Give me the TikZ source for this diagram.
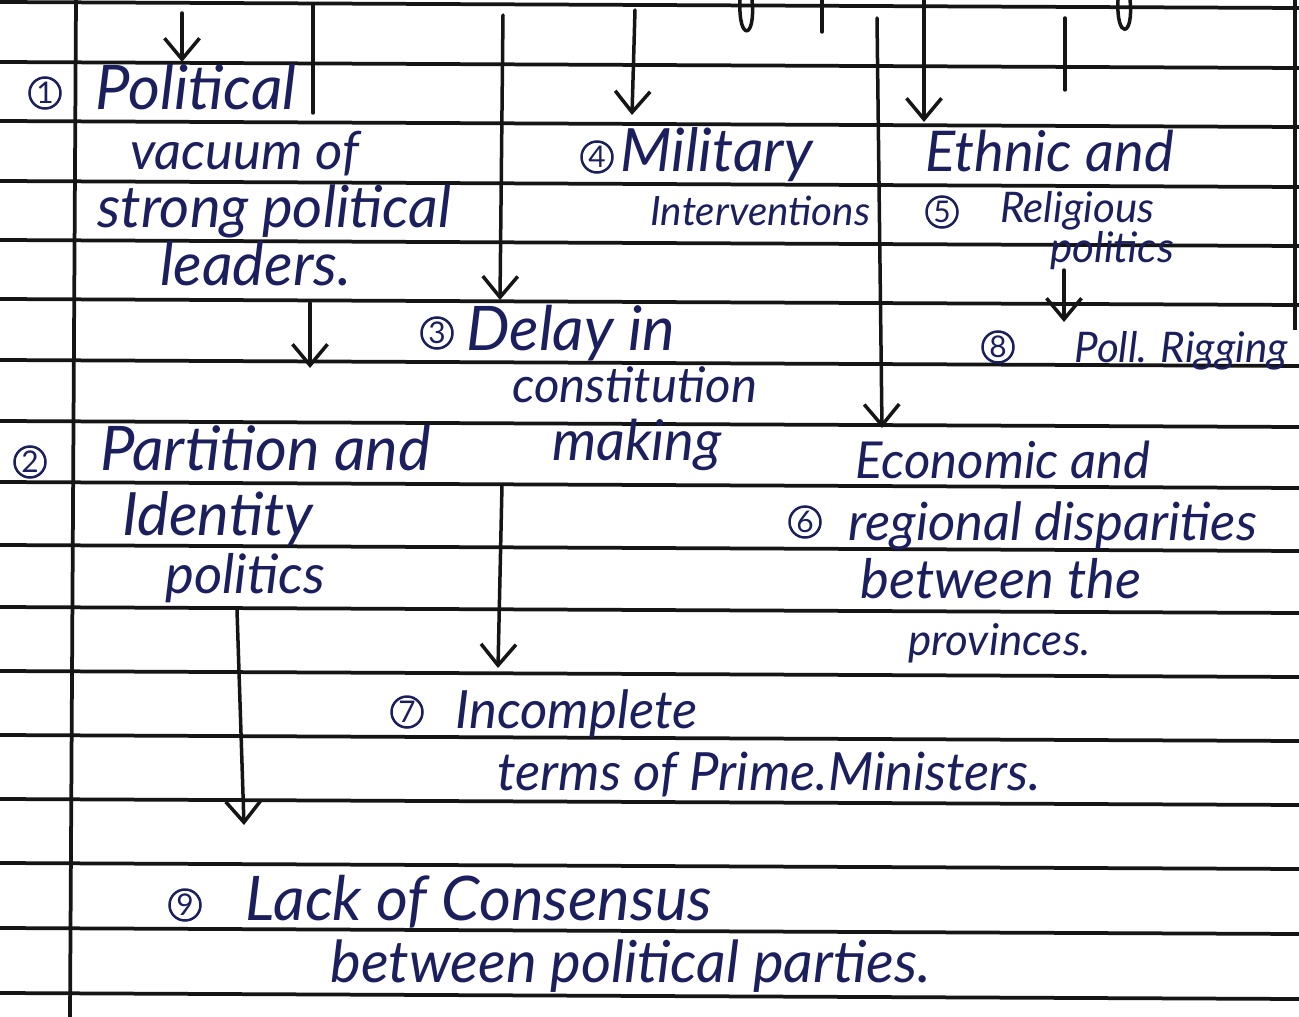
\documentclass[tikz,border=0pt]{standalone}
\usepackage{fontspec}
\setmainfont{Lato}
\usetikzlibrary{arrows.meta}
\definecolor{ink}{HTML}{1B1F5E}
\definecolor{rulec}{HTML}{151515}
\begin{document}
\begin{tikzpicture}[x=0.02cm,y=-0.02cm,
  rule/.style={draw=rulec,line width=0.075cm},
  stroke/.style={draw=rulec,line width=0.07cm,line cap=round},
  arr/.style={draw=rulec,line width=0.07cm,line cap=round,-{Straight Barb[length=0.42cm,width=0.7cm,line width=0.07cm]}},
  hw/.style={anchor=base west,inner sep=0pt,text=ink,font=\fontsize{#1}{#1}\selectfont\itshape},
  hw/.default=30,
  num/.style={circle,draw=ink,line width=0.05cm,text=ink,inner sep=0pt,minimum size=0.62cm,font=\fontsize{17}{17}\selectfont}]
\useasboundingbox (0,0) rectangle (1299,1017);
\fill[white] (0,0) rectangle (1299,1017);
% ruled lines
\foreach \y in {2,62,121,181,240,299,360,421,482,545,607,671,735,799,863,928,993}
  \draw[rule] (0,\y) -- (1299,\y+6);
% margins
\draw[rule] (76,0) -- (70,1017);
\draw[rule] (1295,0) -- (1295,330);
% header fragments
\draw[stroke] (822,0) -- (822,32);
\draw[stroke] (740,0) .. controls (738,42) and (756,40) .. (752,0);
\draw[stroke] (1118,0) .. controls (1116,40) and (1134,38) .. (1130,0);
% text nodes
\node[num] (n1) at (45,93) {1};
\node[hw=35] (t1a) at (95,110) {Political};
\node[hw=30] (t1b) at (130,170) {vacuum of};
\node[hw=33] (t1c) at (97,228) {strong political};
\node[hw=34] (t1d) at (160,285) {leaders.};
\node[num] (n2) at (30,462) {2};
\node[hw=35] (t2a) at (100,470) {Partition and};
\node[hw=34] (t2b) at (122,535) {Identity};
\node[hw=31] (t2c) at (165,593) {politics};
\node[num] (n3) at (437,333) {3};
\node[hw=35] (t3a) at (466,350) {Delay in};
\node[hw=28] (t3b) at (512,402) {constitution};
\node[hw=32] (t3c) at (552,460) {making};
\node[num] (n4) at (597,157) {4};
\node[hw=34] (t4a) at (620,172) {Military};
\node[hw=23] (t4b) at (650,225) {Interventions};
\node[hw=32] (t5a) at (925,172) {Ethnic and};
\node[num] (n5) at (942,212) {5};
\node[hw=24] (t5b) at (1000,222) {Religious};
\node[hw=24] (t5c) at (1050,262) {politics};
\node[num] (n8) at (998,347) {8};
\node[hw=24] (t8) at (1074,362) {Poll. Rigging};
\node[hw=29] (t6a) at (855,478) {Economic and};
\node[num] (n6) at (805,522) {6};
\node[hw=30] (t6b) at (848,540) {regional disparities};
\node[hw=31] (t6c) at (860,598) {between the};
\node[hw=25] (t6d) at (908,655) {provinces.};
\node[num] (n7) at (407,712) {7};
\node[hw=30] (t7a) at (455,728) {Incomplete};
\node[hw=30] (t7b) at (497,790) {terms of Prime.Ministers.};
\node[num] (n9) at (185,905) {9};
\node[hw=35] (t9a) at (245,920) {Lack of Consensus};
\node[hw=33] (t9b) at (330,982) {between political parties.};
% connector end points
\coordinate (a1s) at (182,13);  \coordinate (a1e) at (182,62);
\coordinate (b1s) at (313,5);   \coordinate (b1e) at (313,113);
\coordinate (a3s) at (503,15);  \coordinate (a3e) at (500,300);
\coordinate (a4s) at (635,10);  \coordinate (a4e) at (632,115);
\coordinate (a6s) at (877,18);  \coordinate (a6e) at (882,428);
\coordinate (a5s) at (924,0);   \coordinate (a5e) at (924,122);
\coordinate (b5s) at (1065,18); \coordinate (b5e) at (1065,90);
\coordinate (a2s) at (310,303); \coordinate (a2e) at (310,368);
\coordinate (a8s) at (1064,270); \coordinate (a8e) at (1064,322);
\coordinate (a7s) at (502,485); \coordinate (a7e) at (498,668);
\coordinate (a9s) at (237,610); \coordinate (a9e) at (244,825);
% connectors
\draw[arr] (a1s) -- (a1e);
\draw[stroke] (b1s) -- (b1e);
\draw[arr] (a3s) -- (a3e);
\draw[arr] (a4s) -- (a4e);
\draw[arr] (a6s) -- (a6e);
\draw[arr] (a5s) -- (a5e);
\draw[stroke] (b5s) -- (b5e);
\draw[arr] (a2s) -- (a2e);
\draw[arr] (a8s) -- (a8e);
\draw[arr] (a7s) -- (a7e);
\draw[arr] (a9s) -- (a9e);
\end{tikzpicture}
\end{document}
